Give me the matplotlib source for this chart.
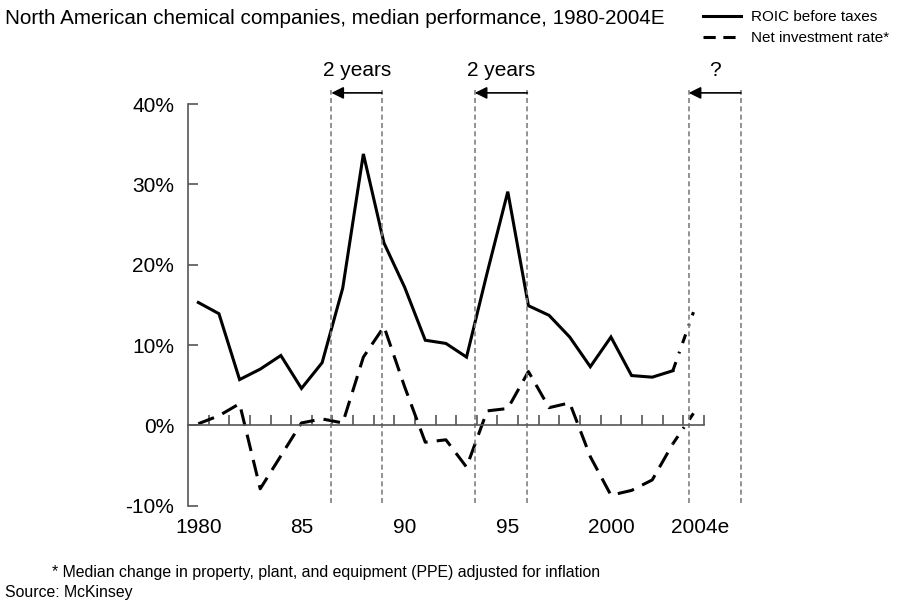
import matplotlib
matplotlib.use("Agg")
import matplotlib.pyplot as plt
from matplotlib.lines import Line2D
import matplotlib.transforms as mtransforms

plt.rcParams['font.family'] = ['Liberation Sans', 'DejaVu Sans']

# Data (2004 is an estimate)
years = list(range(1980, 2005))
roic = [15.3, 13.9, 5.7, 7.0, 8.7, 4.6, 7.8, 17.1, 33.8, 22.7, 17.2, 10.6,
        10.2, 8.5, 19.0, 29.1, 14.9, 13.7, 11.0, 7.3, 11.0, 6.2, 6.0, 6.8, 14.1]
net_invest = [0.2, 1.2, 2.7, -7.9, -3.8, 0.3, 0.8, 0.3, 8.5, 12.3, 4.8, -2.1,
              -1.8, -5.2, 1.8, 2.1, 6.7, 2.2, 2.8, -3.9, -8.7, -8.1, -6.8, -2.3, 1.5]
label_years = [1980, 1985, 1990, 1995, 2000, 2004]
label_text = ["1980", "85", "90", "95", "2000", "2004e"]
# cycle markers: (left line, right line, label)
cycles = [(1986.45, 1988.9, "2 years"), (1993.4, 1995.95, "2 years"),
          (2003.77, 2006.3, "?")]

fig = plt.figure(figsize=(8.97, 6.03), dpi=100)
ax = fig.add_axes([0.1981, 0.1348, 0.667, 0.7591])
ax.set_xlim(1979, 2008)
ax.set_ylim(-12, 45)

# actual values
ax.plot(years[:-1], roic[:-1], color='black', lw=2.2, solid_joinstyle='miter')
ax.plot(years[:-1], net_invest[:-1], color='black', lw=2.2, linestyle=(0, (5.5, 3)))
# estimate segment
ax.plot(years[-2:], roic[-2:], color='black', lw=2.2, linestyle=(0, (3, 3, 0.6, 3)))
ax.plot(years[-2:], net_invest[-2:], color='black', lw=2.2, linestyle=(0, (3, 3, 0.6, 3)))

# cycle markers
for left, right, txt in cycles:
    ax.vlines([left, right], -9.7, 41.8, colors='#808080', lw=1.2,
              linestyles=(0, (3, 2)))
    ax.annotate("", xy=(left, 41.4), xytext=(right, 41.4),
                arrowprops=dict(arrowstyle='-|>', color='black', lw=1.2,
                                mutation_scale=18, shrinkA=0, shrinkB=0))
    ax.text((left + right) / 2, 44.2, txt, ha='center', va='center', fontsize=15)

# axes styling
for side in ['top', 'right']:
    ax.spines[side].set_visible(False)
ax.spines['left'].set_position(('data', 1979.5))
ax.spines['left'].set_bounds(-10, 40)
ax.spines['bottom'].set_position(('data', 0))
ax.spines['bottom'].set_bounds(1979.5, 2004.5)
for side in ['left', 'bottom']:
    ax.spines[side].set_color('#555555')
    ax.spines[side].set_linewidth(1.2)

ax.set_yticks([-10, 0, 10, 20, 30, 40])
ax.set_yticklabels(["-10%", "0%", "10%", "20%", "30%", "40%"])
ax.tick_params(axis='y', direction='in', length=7, width=1.2, color='#555555',
               pad=10, labelsize=15)
ax.set_xticks([y + 0.5 for y in years])
ax.set_xticklabels([])
ax.tick_params(axis='x', direction='in', length=7, width=1.2, color='#555555')

trans = mtransforms.blended_transform_factory(ax.transData, ax.transData)
for yr, lab in zip(label_years, label_text):
    xoff = 0.3 if lab == "2004e" else 0
    ax.text(yr + xoff, -12.7, lab, ha='center', va='center', fontsize=15,
            transform=trans, clip_on=False)

# title, legend, notes
fig.text(5 / 897, 1 - 18 / 603, "North American chemical companies, median performance, 1980-2004E",
         ha='left', va='center', fontsize=14.9)
handles = [Line2D([], [], color='black', lw=2.2),
           Line2D([], [], color='black', lw=2.2, linestyle=(0, (4, 2.5)))]
fig.legend(handles, ["ROIC before taxes", "Net investment rate*"],
           loc='upper left', bbox_to_anchor=(703 / 897, 1 - 10 / 603),
           frameon=False, fontsize=11, handlelength=2.5, handletextpad=0.65,
           labelspacing=0.45, borderaxespad=0, borderpad=0)
fig.text(52 / 897, 1 - 573 / 603,
         "* Median change in property, plant, and equipment (PPE) adjusted for inflation",
         ha='left', va='center', fontsize=11.4)
fig.text(5 / 897, 1 - 593 / 603, "Source: McKinsey", ha='left', va='center', fontsize=11.4)

fig.savefig("out.png", dpi=100)
